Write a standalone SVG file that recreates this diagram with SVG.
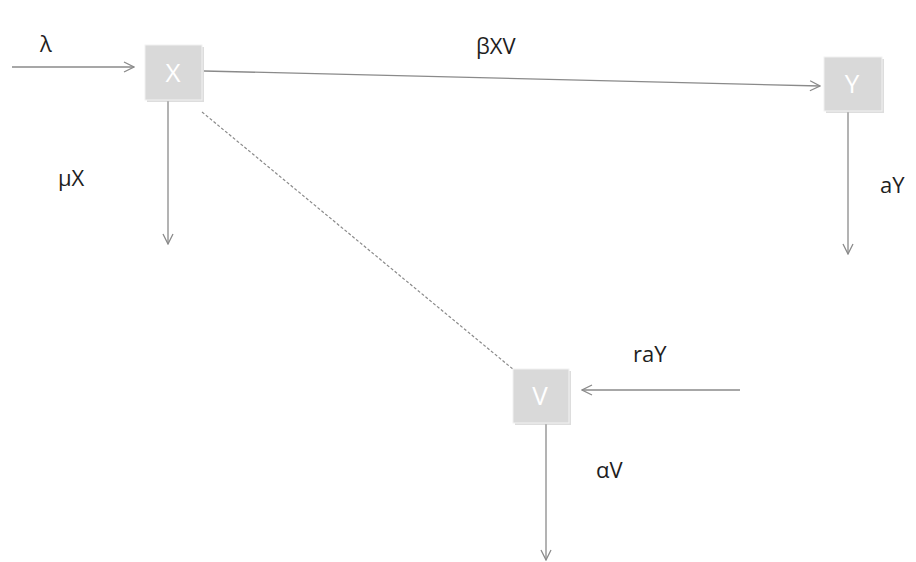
<svg xmlns="http://www.w3.org/2000/svg" width="916" height="562" viewBox="0 0 916 562">
<style>
.box{fill:#d9d9d9;stroke:#f2f2f2;stroke-width:1}
.shadow{fill:#bbbbbb;opacity:0.5}
.bl{font-family:"Open Sans","Liberation Sans",sans-serif;font-size:26px;fill:#ffffff;text-anchor:middle}
.lbl{font-family:"Open Sans","Liberation Sans",sans-serif;font-size:22px;fill:#1e1e1e}
.c{stroke:#8a8a8a;stroke-width:1.3;fill:none}
.d{stroke:#8a8a8a;stroke-width:1.2;fill:none;stroke-dasharray:3,2}
</style>
<defs>
<marker id="ah" viewBox="0 0 12 12" refX="11" refY="6" markerWidth="12" markerHeight="12" markerUnits="userSpaceOnUse" orient="auto">
<path d="M1,1 L11,6 L1,11" fill="none" stroke="#8a8a8a" stroke-width="1.3"/>
</marker>
</defs>
<rect width="916" height="562" fill="#ffffff"/>
<g id="connectors">
<line class="c" x1="12" y1="67" x2="134" y2="67" marker-end="url(#ah)"/>
<line class="c" x1="204" y1="71" x2="820" y2="86" marker-end="url(#ah)"/>
<line class="c" x1="168" y1="101" x2="168" y2="244" marker-end="url(#ah)"/>
<line class="c" x1="848" y1="112" x2="848" y2="254" marker-end="url(#ah)"/>
<line class="d" x1="202" y1="112" x2="514" y2="370"/>
<line class="c" x1="740" y1="390" x2="582" y2="390" marker-end="url(#ah)"/>
<line class="c" x1="546" y1="424" x2="546" y2="560" marker-end="url(#ah)"/>
</g>
<g id="node-X">
<rect class="shadow" x="147" y="47" width="57" height="55"/>
<rect class="box" x="145" y="45" width="57" height="55"/>
<text class="bl" x="173" y="82">X</text>
</g>
<g id="node-Y">
<rect class="shadow" x="826" y="59" width="58" height="54"/>
<rect class="box" x="824" y="57" width="58" height="54"/>
<text class="bl" x="852" y="93">Y</text>
</g>
<g id="node-V">
<rect class="shadow" x="515" y="371" width="56" height="54"/>
<rect class="box" x="513" y="369" width="56" height="54"/>
<text class="bl" x="540" y="405">V</text>
</g>
<g id="labels">
<text class="lbl" x="40" y="52">λ</text>
<text class="lbl" x="476" y="54">βXV</text>
<text class="lbl" x="58" y="186">μX</text>
<text class="lbl" x="880" y="193">aY</text>
<text class="lbl" x="633" y="362">raY</text>
<text class="lbl" x="596" y="478">αV</text>
</g>
</svg>
